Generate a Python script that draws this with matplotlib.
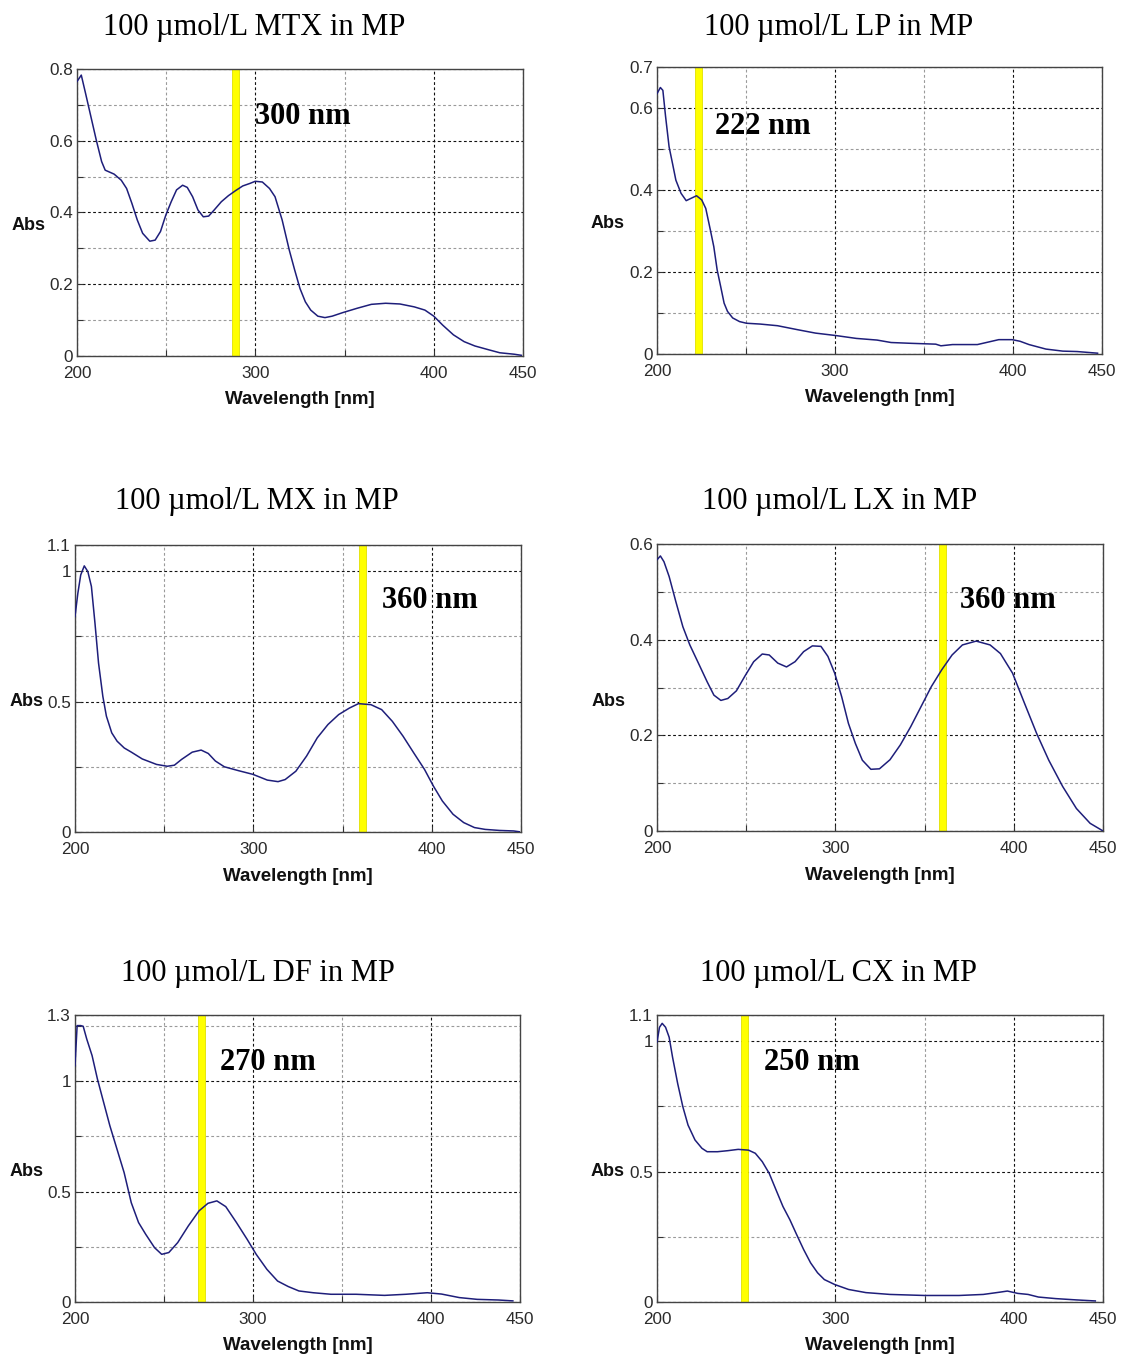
import matplotlib
matplotlib.use("Agg")
import matplotlib.pyplot as plt
from matplotlib.ticker import FixedLocator, FixedFormatter

W, H = 1121, 1358

# ---------------- data ----------------
titles = ["100 \u00b5mol/L MTX in MP", "100 \u00b5mol/L LP in MP",
          "100 \u00b5mol/L MX in MP", "100 \u00b5mol/L LX in MP",
          "100 \u00b5mol/L DF in MP", "100 \u00b5mol/L CX in MP"]
marker_labels = ["300 nm", "222 nm", "360 nm", "360 nm", "270 nm", "250 nm"]
marker_wl = [289, 223.5, 361, 360, 271, 249]

mtx_wl = [200, 202.4, 204.8, 207.8, 210.8, 213.8, 215.8, 220.8, 224.8, 227.8, 230.8, 233.8, 236.8,
          240.8, 243.8, 246.8, 249.8, 252.8, 255.8, 259.2, 261.8, 264.8, 267.8, 270.8, 273.8, 276.9,
          280.9, 284.9, 288.9, 292.9, 296.9, 299.9, 303.9, 307.9, 311, 315, 319, 322, 325, 328, 331,
          335, 339, 343, 349, 357, 365, 373, 381, 389, 395, 400, 405, 411, 417, 423, 431, 437, 445, 449]
mtx_abs = [0.765, 0.783, 0.732, 0.667, 0.602, 0.542, 0.518, 0.507, 0.490, 0.467, 0.425, 0.379, 0.342,
           0.320, 0.323, 0.347, 0.393, 0.430, 0.463, 0.476, 0.470, 0.444, 0.407, 0.388, 0.390, 0.407,
           0.430, 0.447, 0.461, 0.474, 0.481, 0.487, 0.485, 0.467, 0.444, 0.379, 0.295, 0.240, 0.188,
           0.151, 0.128, 0.111, 0.107, 0.111, 0.121, 0.133, 0.144, 0.147, 0.145, 0.137, 0.128, 0.111,
           0.086, 0.059, 0.040, 0.028, 0.017, 0.009, 0.005, 0.002]

lp_wl = [200, 201.9, 203.3, 204.8, 206.8, 208.7, 210.6, 213.5, 216.4, 219.3, 222.2, 225.1, 227.4,
         230, 231.9, 233.8, 235.8, 237.7, 239.6, 242.5, 246.4, 250.3, 258, 267.7, 279.3, 289, 300.5,
         312, 323.6, 331.5, 343, 356.6, 359.5, 366, 380, 388, 392, 399.5, 404, 409, 418.5, 428, 436, 447.5]
lp_abs = [0.635, 0.650, 0.643, 0.580, 0.505, 0.465, 0.424, 0.392, 0.374, 0.380, 0.386, 0.376, 0.355,
          0.302, 0.262, 0.205, 0.164, 0.124, 0.104, 0.088, 0.079, 0.075, 0.073, 0.069, 0.059, 0.051,
          0.045, 0.038, 0.034, 0.028, 0.026, 0.024, 0.020, 0.023, 0.023, 0.031, 0.035, 0.035, 0.031,
          0.023, 0.012, 0.007, 0.006, 0.002]

mx_wl = [200, 201.6, 203.2, 205.2, 207.2, 209.2, 211.2, 213.2, 215.6, 217.6, 220.6, 223.6, 227.6,
         231.6, 237.7, 245.7, 251.7, 255.7, 259.7, 265.7, 270.7, 274.7, 278.7, 283.7, 291.7, 299.7,
         307.8, 313.8, 317.8, 323.8, 329.8, 335.8, 341.8, 347.8, 353.8, 358.9, 365.9, 371.9, 377.9,
         383.9, 389.9, 395.9, 400.9, 405.9, 411.9, 417.9, 423.9, 429.9, 437.9, 445.9, 449]
mx_abs = [0.826, 0.915, 0.985, 1.020, 0.998, 0.941, 0.800, 0.647, 0.520, 0.444, 0.380, 0.348, 0.322,
          0.306, 0.280, 0.259, 0.252, 0.256, 0.278, 0.306, 0.314, 0.301, 0.272, 0.250, 0.235, 0.221,
          0.199, 0.193, 0.201, 0.233, 0.291, 0.361, 0.412, 0.450, 0.475, 0.492, 0.488, 0.469, 0.424,
          0.367, 0.303, 0.240, 0.176, 0.119, 0.068, 0.036, 0.017, 0.010, 0.006, 0.004, 0.001]

lx_wl = [200, 201.9, 203.9, 206.8, 210.6, 214.5, 218.4, 223.2, 228.1, 231.9, 235.8, 239.7, 244.5,
         249.3, 254.2, 259, 262.9, 267.7, 272.6, 277.4, 282.2, 287.1, 291.9, 295.8, 299.6, 303.5,
         307.3, 311.2, 315.1, 319.9, 324.7, 330.6, 336.4, 342.2, 348, 353.8, 359.6, 365.4, 371.2,
         378.9, 386.7, 392.5, 399.3, 406, 412.8, 419.6, 427.4, 435.1, 442.8, 449.6]
lx_abs = [0.567, 0.575, 0.563, 0.532, 0.479, 0.427, 0.389, 0.351, 0.312, 0.284, 0.273, 0.277, 0.293,
          0.324, 0.354, 0.370, 0.368, 0.351, 0.343, 0.354, 0.375, 0.387, 0.386, 0.365, 0.330, 0.281,
          0.225, 0.183, 0.148, 0.129, 0.130, 0.149, 0.180, 0.218, 0.260, 0.302, 0.337, 0.368, 0.389,
          0.397, 0.389, 0.371, 0.330, 0.267, 0.204, 0.148, 0.093, 0.047, 0.016, 0.001]

df_wl = [200, 201.2, 203.2, 204.6, 206.6, 209.6, 212.6, 215.6, 219.6, 223.6, 227.6, 231.6, 235.7,
         239.7, 244.7, 248.7, 252.7, 257.7, 263.7, 269.7, 274.7, 279.7, 284.7, 290.7, 296.7, 301.8,
         307.8, 313.8, 319.8, 325.8, 333.8, 343.8, 357.9, 373.9, 385.9, 397.9, 405.9, 415.9, 425.9,
         438, 446]
df_abs = [1.070, 1.252, 1.252, 1.249, 1.191, 1.116, 1.010, 0.919, 0.798, 0.692, 0.586, 0.450, 0.360,
          0.307, 0.246, 0.216, 0.224, 0.269, 0.345, 0.413, 0.447, 0.458, 0.432, 0.360, 0.284, 0.216,
          0.148, 0.095, 0.070, 0.050, 0.042, 0.035, 0.035, 0.030, 0.035, 0.042, 0.036, 0.020, 0.012,
          0.009, 0.005]

cx_wl = [200, 201.4, 202.9, 204.8, 206.8, 208.7, 211.6, 214.5, 217.4, 221.3, 225.2, 228.1, 233.9,
         239.7, 245.5, 251.3, 255.1, 259, 262.9, 266.7, 270.6, 274.5, 278.3, 282.2, 286.1, 290, 293.8,
         299.6, 307.4, 317.1, 330.6, 350, 369.3, 382.9, 392.5, 396.4, 402.2, 408, 413.8, 423.5, 435.1,
         445.7]
cx_abs = [0.996, 1.053, 1.068, 1.053, 1.015, 0.939, 0.837, 0.748, 0.678, 0.621, 0.589, 0.576, 0.576,
          0.580, 0.585, 0.582, 0.570, 0.538, 0.493, 0.430, 0.366, 0.315, 0.258, 0.201, 0.150, 0.112,
          0.086, 0.067, 0.048, 0.036, 0.029, 0.025, 0.025, 0.029, 0.038, 0.042, 0.033, 0.029, 0.019,
          0.013, 0.008, 0.004]

series_wl = [mtx_wl, lp_wl, mx_wl, lx_wl, df_wl, cx_wl]
series_abs = [mtx_abs, lp_abs, mx_abs, lx_abs, df_abs, cx_abs]

y_max = [0.8, 0.7, 1.1, 0.6, 1.3, 1.1]
y_major = [[0, 0.2, 0.4, 0.6, 0.8], [0, 0.2, 0.4, 0.6, 0.7], [0, 0.5, 1, 1.1],
           [0, 0.2, 0.4, 0.6], [0, 0.5, 1, 1.3], [0, 0.5, 1, 1.1]]
y_major_labels = [["0", "0.2", "0.4", "0.6", "0.8"], ["0", "0.2", "0.4", "0.6", "0.7"],
                  ["0", "0.5", "1", "1.1"], ["0", "0.2", "0.4", "0.6"],
                  ["0", "0.5", "1", "1.3"], ["0", "0.5", "1", "1.1"]]
y_minor = [[0.1, 0.3, 0.5, 0.7], [0.1, 0.3, 0.5], [0.25, 0.75], [0.1, 0.3, 0.5],
           [0.25, 0.75, 1.25], [0.25, 0.75]]
x_major = [200, 300, 400, 450]
x_major_labels = ["200", "300", "400", "450"]
x_minor = [250, 350]

# ---------------- layout (pixels) ----------------
boxes = [(77, 523, 69, 356), (657, 1102, 67, 354),
         (75, 521, 545, 832), (657, 1103, 544, 831),
         (75, 520, 1015, 1302), (657, 1103, 1015, 1302)]
title_pos = [(254, 27), (839, 27), (257, 502), (840, 502), (258, 974), (838, 974)]
abs_pos = [(29, 226), (608, 223), (27, 701), (609, 701), (27, 1171), (608, 1171)]
label_pos = [(255, 116), (715, 127), (382, 600), (960, 600), (220, 1063), (764, 1063)]

fig = plt.figure(figsize=(W / 100, H / 100), dpi=100)
fig.patch.set_facecolor("white")

line_color = "#1e1e7a"
tick_color = "#2a2a2a"

for i in range(6):
    l, r, t, b = boxes[i]
    ax = fig.add_axes([l / W, 1 - b / H, (r - l) / W, (b - t) / H])
    ax.set_xlim(200, 450)
    ax.set_ylim(0, y_max[i])

    ax.xaxis.set_major_locator(FixedLocator(x_major))
    ax.xaxis.set_major_formatter(FixedFormatter(x_major_labels))
    ax.xaxis.set_minor_locator(FixedLocator(x_minor))
    ax.yaxis.set_major_locator(FixedLocator(y_major[i]))
    ax.yaxis.set_major_formatter(FixedFormatter(y_major_labels[i]))
    ax.yaxis.set_minor_locator(FixedLocator(y_minor[i]))

    ax.tick_params(which="both", direction="in", length=4, width=0.8, colors="#333333",
                   labelcolor=tick_color, labelsize=12.3, top=False, right=False)
    ax.tick_params(axis="x", which="major", pad=7)
    ax.tick_params(axis="y", which="major", pad=3)
    for lab in ax.get_xticklabels() + ax.get_yticklabels():
        lab.set_fontfamily("Liberation Sans")

    ax.grid(which="major", color="#111111", linestyle=(0, (2.5, 2.2)), linewidth=0.8)
    ax.grid(which="minor", color="#9a9a9a", linestyle=(0, (2.5, 2.2)), linewidth=0.8)
    ax.set_axisbelow(True)

    for sp in ax.spines.values():
        sp.set_color("#444444")
        sp.set_linewidth(1.0)

    # yellow marker band
    ax.axvspan(marker_wl[i] - 1.9, marker_wl[i] + 1.9, color="#ffff00", zorder=2,
               ec="#e0e000", lw=0.6)

    ax.plot(series_wl[i], series_abs[i], color=line_color, lw=1.1, zorder=3)

    # marker label
    lx, ly = label_pos[i]
    fig.text(lx / W, 1 - ly / H, marker_labels[i], fontfamily="Liberation Serif",
             fontweight="bold", fontsize=22, ha="left", va="center", color="black", zorder=5)

    ax.set_xlabel("Wavelength [nm]", fontfamily="Liberation Sans", fontweight="bold",
                  fontsize=13.5, color="#111111")
    ax.xaxis.set_label_coords(0.5, -44 / (b - t))
    ax.xaxis.label.set_va("center")

    ax_x, ax_y = abs_pos[i]
    fig.text(ax_x / W, 1 - ax_y / H, "Abs", fontfamily="Liberation Sans", fontweight="bold",
             fontsize=13, ha="center", va="center", color="#111111")

    tx, ty = title_pos[i]
    fig.text(tx / W, 1 - ty / H, titles[i], fontfamily="Liberation Serif", fontsize=22,
             ha="center", va="center", color="black")

fig.savefig("out.png", dpi=100, facecolor="white")
